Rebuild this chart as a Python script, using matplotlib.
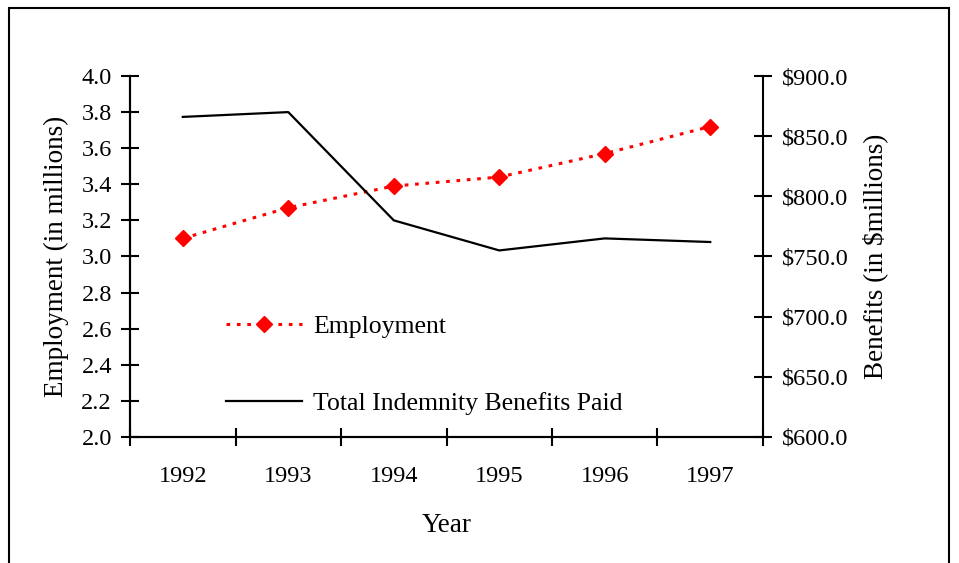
import numpy as np
import matplotlib.pyplot as plt
from matplotlib.patches import Rectangle
from matplotlib.ticker import FuncFormatter

plt.rcParams['font.family'] = ['Liberation Serif', 'DejaVu Serif']

years = ['1992', '1993', '1994', '1995', '1996', '1997']
employment = [3.10, 3.27, 3.39, 3.44, 3.57, 3.72]      # millions
benefits = [866.0, 870.0, 780.0, 755.0, 765.0, 762.0]  # $ millions

TICK_FS = 17.5
LABEL_FS = 19.5
LEGEND_FS = 18.5

fig = plt.figure(figsize=(9.59, 5.63), dpi=100)
ax = fig.add_axes([0.1356, 0.224, 0.66, 0.641])
ax2 = ax.twinx()

x = np.arange(len(years))
l1, = ax.plot(x, employment, color='red', linestyle=(0, (1.2, 2.2)), lw=2.2,
              marker='D', ms=8, mec='red', mfc='red', label='Employment')
l2, = ax2.plot(x, benefits, color='black', lw=1.6,
               label='Total Indemnity Benefits Paid')

ax.set_xlim(-0.5, len(years) - 0.5)
ax.set_ylim(2.0, 4.0)
ax.set_yticks(np.arange(2.0, 4.01, 0.2))
ax.yaxis.set_major_formatter(FuncFormatter(lambda v, p: f'{v:.1f}'))
ax2.set_ylim(600, 900)
ax2.set_yticks(np.arange(600, 901, 50))
ax2.yaxis.set_major_formatter(FuncFormatter(lambda v, p: f'\\${v:.1f}'))

# category boundaries get the tick marks, centres get the labels
ax.set_xticks(np.arange(-0.5, len(years), 1.0))
ax.set_xticklabels([])
ax.set_xticks(x, minor=True)
ax.set_xticklabels(years, minor=True)
ax.tick_params(axis='x', which='minor', length=0, pad=21, labelsize=TICK_FS)
ax.tick_params(axis='x', which='major', direction='inout', length=13, width=1.5)
ax.tick_params(axis='y', direction='inout', length=13, width=1.5,
               labelsize=TICK_FS, pad=6.5)
ax2.tick_params(axis='y', direction='inout', length=13, width=1.5,
                labelsize=TICK_FS, pad=7)

for a in (ax, ax2):
    a.spines['top'].set_visible(False)
    for s in ('left', 'right', 'bottom'):
        a.spines[s].set_linewidth(1.5)
ax.spines['right'].set_visible(False)

ax.set_xlabel('Year', fontsize=LABEL_FS, labelpad=19)
ax.set_ylabel('Employment (in millions)', fontsize=LABEL_FS, labelpad=9)
ax2.set_ylabel('Benefits (in \\$millions)', fontsize=LABEL_FS, labelpad=10)

ax2.legend([l1, l2], ['Employment', 'Total Indemnity Benefits Paid'],
           loc='upper left', bbox_to_anchor=(0.152, 0.337), frameon=False,
           borderpad=0, borderaxespad=0,
           fontsize=LEGEND_FS, handlelength=2.96, handletextpad=0.43,
           labelspacing=2.1, numpoints=1)

# outer frame around the chart area
fig.patches.append(Rectangle((9 / 959, -0.05), 940 / 959, 1.05 - 8 / 563,
                             transform=fig.transFigure, fill=False,
                             edgecolor='black', lw=1.5))

fig.savefig('out.png', dpi=100)
